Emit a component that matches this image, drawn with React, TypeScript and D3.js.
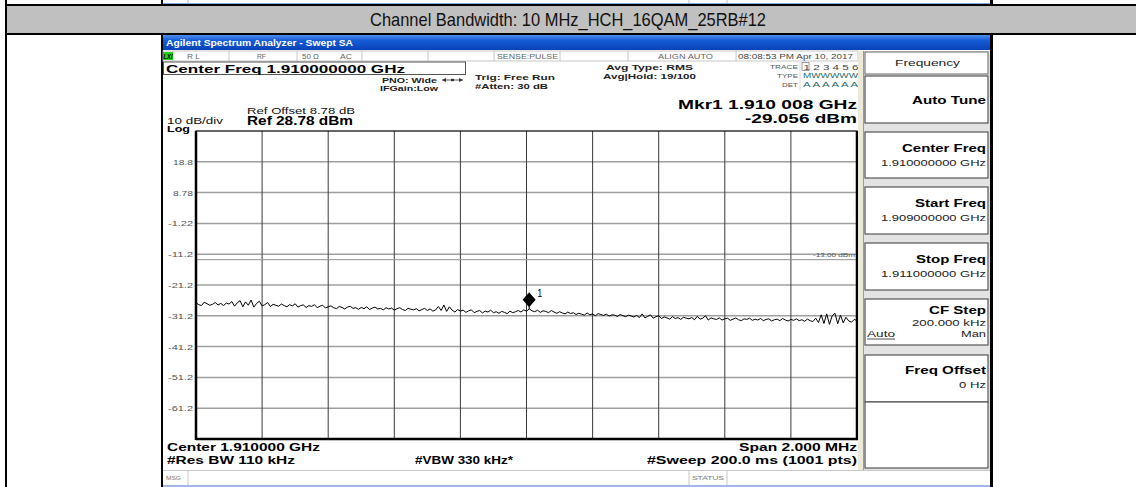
import React from 'react';
import * as d3 from 'd3';

const W = 1136;
const H = 487;
const FONT = '"Liberation Sans", Arial, sans-serif';

// analyzer settings
const startGHz = 1.909;
const stopGHz = 1.911;
const refLevel = 28.78;
const dbPerDiv = 10;
const displayLineDbm = -13.0;
const markerGHz = 1.910008;
const markerDbm = -29.056;
const yTickLabels = ['18.8', '8.78', '-1.22', '-11.2', '-21.2', '-31.2', '-41.2', '-51.2', '-61.2'];

// trace 1 (dBm), evenly spaced over the span
const traceDbm = [
  -27.0, -27.6, -27.9, -26.8, -27.3, -27.8, -27.5, -26.9, -27.7, -27.2,
  -27.9, -27.1, -27.4, -26.6, -28.1, -27.0, -26.3, -28.3, -26.7, -27.8,
  -26.1, -28.4, -27.2, -26.5, -28.0, -27.6, -26.9, -28.2, -27.5, -27.8,
  -28.1, -27.4, -27.9, -28.3, -27.6, -28.0, -27.3, -28.4, -27.9, -27.7,
  -28.5, -27.9, -28.2, -27.6, -28.6, -28.1, -27.8, -28.7, -28.3, -28.0,
  -28.6, -28.9, -28.2, -28.5, -29.0, -28.4, -28.1, -28.8, -28.6, -29.1,
  -28.5, -28.9, -28.3, -29.2, -28.7, -28.4, -29.0, -28.8, -29.3, -28.6,
  -29.0, -28.7, -29.4, -28.9, -28.6, -29.2, -29.5, -28.8, -29.1, -29.3,
  -28.9, -29.6, -29.2, -28.8, -29.5, -29.0, -29.7, -29.3, -28.2, -29.5,
  -27.7, -29.8, -28.3, -29.4, -30.0, -29.2, -29.7, -29.4, -30.1, -29.6,
  -29.3, -30.2, -29.8, -29.5, -30.3, -29.7, -30.0, -29.4, -30.2, -29.9,
  -30.4, -29.8, -30.1, -30.5, -29.7, -30.2, -29.9, -29.5, -30.0, -29.3,
  -29.7, -29.0, -29.6, -29.9, -29.4, -30.1, -29.6, -29.8, -30.2, -29.5,
  -30.0, -30.4, -29.9, -30.3, -30.6, -30.0, -30.5, -30.2, -30.8, -30.4,
  -30.7, -31.0, -30.3, -30.9, -30.6, -31.2, -30.5, -30.8, -31.1, -30.7,
  -31.3, -30.9, -31.0, -31.4, -30.8, -31.2, -31.5, -31.0, -31.3, -31.6,
  -31.1, -31.8, -30.6, -31.9, -31.4, -30.9, -32.0, -31.5, -31.2, -32.1,
  -31.6, -31.9, -32.3, -31.5, -32.1, -31.8, -32.4, -31.7, -32.0, -32.2,
  -31.8, -32.5, -31.4, -32.3, -32.0, -31.2, -32.6, -31.9, -32.2, -32.4,
  -31.9, -32.6, -32.2, -32.0, -32.7, -32.3, -31.9, -32.5, -32.8, -32.2,
  -32.4, -32.0, -32.7, -32.3, -32.6, -32.1, -32.8, -32.4, -32.2, -32.9,
  -32.5, -32.3, -32.8, -32.1, -32.6, -32.9, -32.4, -32.7, -32.2, -32.8,
  -32.5, -33.0, -32.3, -32.8, -33.1, -32.0, -33.4, -30.9, -33.7, -30.6,
  -34.0, -31.2, -30.4, -33.8, -31.0, -33.5, -31.7, -32.9, -33.3, -32.4,
  -32.8,
];

const plot = { l: 196, r: 857, t: 131, b: 439 };

function Txt({ x, y, w, s, b = false, c = '#000', i = false, a, children }: any) {
  return (
    <text
      x={x}
      y={y}
      fontSize={s}
      fontWeight={b ? 'bold' : 'normal'}
      fontStyle={i ? 'italic' : 'normal'}
      fill={c}
      textAnchor={a}
      textLength={w}
      lengthAdjust="spacingAndGlyphs"
    >
      {children}
    </text>
  );
}

// softkey boxes: [top, bottom]
const softkeys = [
  { t: 76, b: 123 },
  { t: 132, b: 178 },
  { t: 187, b: 234 },
  { t: 243, b: 290 },
  { t: 299, b: 345 },
  { t: 355, b: 402 },
  { t: 402, b: 468 },
];

export default function App() {
  const x = d3.scaleLinear().domain([startGHz, stopGHz]).range([plot.l, plot.r]);
  const y = d3.scaleLinear().domain([refLevel - 10 * dbPerDiv, refLevel]).range([plot.b, plot.t]);
  const idxToGHz = d3.scaleLinear().domain([0, traceDbm.length - 1]).range([startGHz, stopGHz]);

  const line = d3.line<number>()
    .x((_, i) => x(idxToGHz(i)))
    .y(d => y(d));

  const xGrid = d3.range(1, 10).map(k => startGHz + (k * (stopGHz - startGHz)) / 10);
  const yGrid = d3.range(1, 10).map(k => refLevel - k * dbPerDiv);

  const mx = x(markerGHz);
  const my = y(markerDbm);

  return (
    <div style={{ position: 'absolute', left: 0, top: 0 }}>
      <svg width={W} height={H} style={{ display: 'block', fontFamily: FONT }}>
        <defs>
          <linearGradient id="titlebar" x1="0" y1="0" x2="0" y2="1">
            <stop offset="0%" stopColor="#4f8fec" />
            <stop offset="35%" stopColor="#165dd8" />
            <stop offset="100%" stopColor="#0842b6" />
          </linearGradient>
        </defs>
        <rect width={W} height={H} fill="#fff" />

        {/* remnant of previous screenshot at the very top */}
        <rect x={163} y={0} width={827} height={4} fill="#fff" />
        <line x1={163} x2={990} y1={3.5} y2={3.5} stroke="#7da3e4" strokeWidth={1.2} />
        <line x1={188} x2={188} y1={0} y2={3} stroke="#bbb" />
        <line x1={689} x2={689} y1={0} y2={3} stroke="#bbb" />
        <line x1={727} x2={727} y1={0} y2={3} stroke="#bbb" />

        {/* table title row */}
        <rect x={7} y={6} width={W - 7} height={27} fill="#c0c0c0" />
        <rect x={5} y={4} width={W - 5} height={2} fill="#000" />
        <rect x={5} y={33} width={W - 5} height={2} fill="#000" />
        <rect x={5} y={0} width={2} height={H} fill="#000" />
        <rect x={161} y={0} width={2} height={4} fill="#000" />
        <rect x={161} y={35} width={2} height={H - 35} fill="#000" />
        <text x={568} y={26} fontSize={19} textAnchor="middle" textLength={396} lengthAdjust="spacingAndGlyphs" fill="#111">
          Channel Bandwidth: 10 MHz_HCH_16QAM_25RB#12
        </text>

        {/* analyzer window */}
        <rect x={163} y={35} width={827} height={15} fill="url(#titlebar)" />
        <Txt x={166} y={46} s={9} w={187} b c="#fff">Agilent Spectrum Analyzer - Swept SA</Txt>

        {/* status row */}
        <rect x={163} y={51} width={695} height={10} fill="#fff" stroke="#b8b8b8" strokeWidth={0.8} />
        {[173, 229, 297, 362, 428, 494, 560, 628, 736].map(sx => (
          <line key={sx} x1={sx} x2={sx} y1={51} y2={61} stroke="#b8b8b8" strokeWidth={0.8} />
        ))}
        <rect x={163} y={52} width={10} height={8} fill="#1fd31f" />
        <Txt x={163.5} y={58.8} s={7} w={9} b i>LXI</Txt>
        <Txt x={187} y={58.5} s={7} w={13} c="#666">R L</Txt>
        <Txt x={257} y={58.5} s={7} w={9} c="#666">RF</Txt>
        <Txt x={302} y={58.5} s={7} w={17} c="#666">50 Ω</Txt>
        <Txt x={340} y={58.5} s={7} w={12} c="#666">AC</Txt>
        <Txt x={497} y={58.5} s={7} w={61} c="#666">SENSE:PULSE</Txt>
        <Txt x={658} y={58.5} s={7} w={55} c="#666">ALIGN AUTO</Txt>
        <Txt x={738} y={58.5} s={7} w={115} c="#444">08:08:53 PM Apr 10, 2017</Txt>

        {/* centre frequency entry box */}
        <rect x={163.5} y={62} width={302} height={12.5} fill="#fff" stroke="#555" strokeWidth={1} />
        <Txt x={166} y={72.5} s={11.5} w={239} b>Center Freq 1.910000000 GHz</Txt>

        <Txt x={382} y={82.5} s={7.5} w={55} b c="#222">PNO: Wide</Txt>
        <line x1={442} x2={463} y1={80} y2={80} stroke="#333" strokeWidth={0.8} />
        <path d="M442,80 l4,-2 v4 z M463,80 l-4,-2 v4 z" fill="#333" />
        <rect x={451} y={78.8} width={3} height={2.4} fill="#333" />
        <Txt x={380} y={91} s={7.5} w={58} b c="#222">IFGain:Low</Txt>
        <Txt x={475} y={80} s={7.5} w={80} b c="#222">Trig: Free Run</Txt>
        <Txt x={475} y={89} s={7.5} w={73} b c="#222">#Atten: 30 dB</Txt>
        <Txt x={606} y={70} s={7.5} w={87} b c="#222">Avg Type: RMS</Txt>
        <Txt x={603} y={79} s={7.5} w={93} b c="#222">Avg|Hold: 19/100</Txt>

        {/* trace table */}
        <Txt x={770} y={69} s={6} w={28} c="#555">TRACE</Txt>
        <Txt x={777} y={78} s={6} w={21} c="#555">TYPE</Txt>
        <Txt x={782} y={87} s={6} w={16} c="#555">DET</Txt>
        <rect x={802} y={62.5} width={7} height={8} fill="none" stroke="#777" strokeWidth={0.7} />
        <Txt x={803.5} y={69.5} s={7.5} w={55} c="#444">1 2 3 4 5 6</Txt>
        <Txt x={803} y={78} s={6.5} w={55} c="#1f6b6b">MWWWWW</Txt>
        <Txt x={803} y={87} s={7} w={55} c="#1f6b6b">A A A A A A</Txt>
        <line x1={800} x2={800} y1={62} y2={90} stroke="#ccc" strokeWidth={0.7} />
        <line x1={860} x2={860} y1={62} y2={90} stroke="#bbb" strokeWidth={0.7} />

        {/* marker readout */}
        <Txt x={678} y={109} s={13.5} w={179} b>Mkr1 1.910 008 GHz</Txt>
        <Txt x={745} y={122.5} s={13.5} w={112} b>-29.056 dBm</Txt>

        <Txt x={247} y={113.5} s={9.5} w={108} c="#111">Ref Offset 8.78 dB</Txt>
        <Txt x={247} y={125} s={12.5} w={106} b>Ref 28.78 dBm</Txt>
        <Txt x={167} y={123.5} s={9} w={56} c="#111">10 dB/div</Txt>
        <Txt x={167} y={132} s={8.5} w={23} b>Log</Txt>

        {/* graticule */}
        {yGrid.map(v => (
          <line key={v} x1={plot.l} x2={plot.r} y1={y(v)} y2={y(v)} stroke="#a0a0a0" strokeWidth={1.5} />
        ))}
        {xGrid.map(f => (
          <line key={f} x1={x(f)} x2={x(f)} y1={plot.t} y2={plot.b} stroke="#3a3a3a" strokeWidth={1} />
        ))}
        <line x1={plot.l} x2={plot.r} y1={y(displayLineDbm)} y2={y(displayLineDbm)} stroke="#909090" strokeWidth={1} />
        <Txt x={813} y={257} s={6} w={42} c="#555">-13.00 dBm</Txt>

        {yGrid.map((v, k) => (
          <Txt key={v} x={193 - yTickLabels[k].length * 5} y={y(v) + 3} s={8} w={yTickLabels[k].length * 5} c="#555">
            {yTickLabels[k]}
          </Txt>
        ))}

        {/* trace */}
        <path d={line(traceDbm) || ''} fill="none" stroke="#000" strokeWidth={1} />

        {/* marker */}
        <path
          d={`M${mx},${my - 17} L${mx + 6.5},${my - 9.5} L${mx},${my - 2} L${mx - 6.5},${my - 9.5} Z`}
          fill="#000"
        />
        <line x1={mx} x2={mx} y1={my - 3} y2={my} stroke="#000" strokeWidth={1} />
        <Txt x={mx + 8} y={my - 12.5} s={10} w={5}>1</Txt>

        {/* frame */}
        <rect x={plot.l} y={plot.t} width={plot.r - plot.l} height={plot.b - plot.t} fill="none" stroke="#000" strokeWidth={1.2} />
        <line x1={plot.l} x2={plot.l} y1={plot.t} y2={plot.b + 1} stroke="#000" strokeWidth={2.5} />
        <line x1={plot.l} x2={plot.r + 1} y1={plot.b} y2={plot.b} stroke="#000" strokeWidth={2.5} />
        <line x1={plot.r} x2={plot.r} y1={plot.t} y2={plot.b + 1} stroke="#000" strokeWidth={2.5} />

        {/* bottom annotations */}
        <Txt x={167} y={451} s={11} w={153} b>Center 1.910000 GHz</Txt>
        <Txt x={167} y={463.5} s={11} w={128} b>#Res BW 110 kHz</Txt>
        <Txt x={415} y={463.5} s={11} w={98} b>#VBW 330 kHz*</Txt>
        <Txt x={739} y={451} s={11} w={118} b>Span 2.000 MHz</Txt>
        <Txt x={647} y={463.5} s={11} w={210} b>#Sweep  200.0 ms (1001 pts)</Txt>

        {/* softkey panel */}
        <rect x={858} y={51} width={132} height={419} fill="#e3e3e3" />
        <rect x={858} y={51} width={5} height={419} fill="#ece9d8" />
        <line x1={863.5} x2={863.5} y1={51} y2={470} stroke="#9a9a9a" strokeWidth={1} />
        <rect x={865} y={52} width={123} height={22} fill="#fff" stroke="#666" strokeWidth={1} />
        <Txt x={895} y={66} s={9.5} w={65} c="#222">Frequency</Txt>
        {softkeys.map(k => (
          <rect key={k.t} x={865} y={k.t} width={123} height={k.b - k.t} fill="#fff" stroke="#555" strokeWidth={1.2} />
        ))}
        <Txt x={912} y={104} s={10.5} w={74} b>Auto Tune</Txt>
        <Txt x={902} y={152} s={10.5} w={84} b>Center Freq</Txt>
        <Txt x={881} y={166} s={8.5} w={105} c="#222">1.910000000 GHz</Txt>
        <Txt x={915} y={207} s={10.5} w={71} b>Start Freq</Txt>
        <Txt x={881} y={221} s={8.5} w={105} c="#222">1.909000000 GHz</Txt>
        <Txt x={916} y={263} s={10.5} w={70} b>Stop Freq</Txt>
        <Txt x={881} y={277} s={8.5} w={105} c="#222">1.911000000 GHz</Txt>
        <Txt x={929} y={314} s={10.5} w={57} b>CF Step</Txt>
        <Txt x={912} y={326} s={8.5} w={74} c="#222">200.000 kHz</Txt>
        <Txt x={867} y={337} s={8.5} w={28} c="#222">Auto</Txt>
        <line x1={867} x2={895} y1={339} y2={339} stroke="#222" strokeWidth={0.8} />
        <Txt x={961} y={337} s={8.5} w={25} c="#222">Man</Txt>
        <Txt x={905} y={374} s={10.5} w={81} b>Freq Offset</Txt>
        <Txt x={959} y={387.5} s={8.5} w={27} c="#222">0 Hz</Txt>

        {/* status bar */}
        <rect x={163} y={470} width={827} height={17} fill="#fff" />
        <line x1={163} x2={990} y1={470.5} y2={470.5} stroke="#c8c8c8" />
        <line x1={188} x2={188} y1={470} y2={485} stroke="#c8c8c8" />
        <line x1={689} x2={689} y1={470} y2={485} stroke="#c8c8c8" />
        <line x1={727} x2={727} y1={470} y2={485} stroke="#c8c8c8" />
        <Txt x={166} y={480} s={6} w={15} c="#777">MSG</Txt>
        <Txt x={692} y={480} s={6} w={32} c="#777">STATUS</Txt>
        <line x1={163} x2={990} y1={486} y2={486} stroke="#7da3e4" strokeWidth={1.5} />

        {/* right border of the screenshot */}
        <rect x={990} y={0} width={3} height={4} fill="#000" />
        <rect x={990} y={35} width={3} height={H - 35} fill="#000" />
      </svg>
    </div>
  );
}
